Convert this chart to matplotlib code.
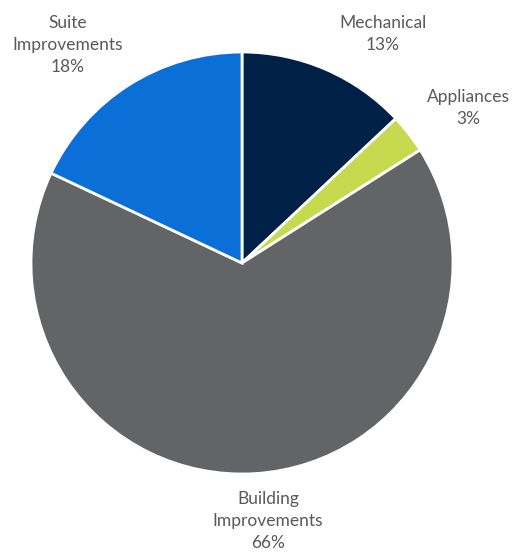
import matplotlib
matplotlib.use("Agg")
import matplotlib.pyplot as plt

# slice data, clockwise from 12 o'clock
labels = ['Mechanical', 'Appliances', 'Building\nImprovements', 'Suite\nImprovements']
values = [13, 3, 66, 18]
colors = ['#002147', '#c5da4e', '#636466', '#0a6fd6']
# label centres in pixels (x, y from top)
label_px = [(383, 34), (468, 108), (268, 521), (68, 45)]

plt.rcParams['font.family'] = ['Lato', 'DejaVu Sans']

W, H = 512, 552
cx, cy, R = 242, 263, 211

fig = plt.figure(figsize=(W / 100, H / 100), dpi=100)
ax = fig.add_axes([0, 0, 1, 1])
ax.pie(values, colors=colors, startangle=90, counterclock=False, radius=1,
       wedgeprops=dict(edgecolor='white', linewidth=2))
ax.set_xlim(-cx / R, (W - cx) / R)
ax.set_ylim(-(H - cy) / R, cy / R)
ax.set_aspect('equal')
ax.axis('off')

for lab, v, (px, py) in zip(labels, values, label_px):
    ax.text((px - cx) / R, (cy - py) / R, f'{lab}\n{v}%', ha='center', va='center',
            fontsize=12.5, color='#595959', linespacing=1.45)

fig.savefig('out.png', dpi=100)
